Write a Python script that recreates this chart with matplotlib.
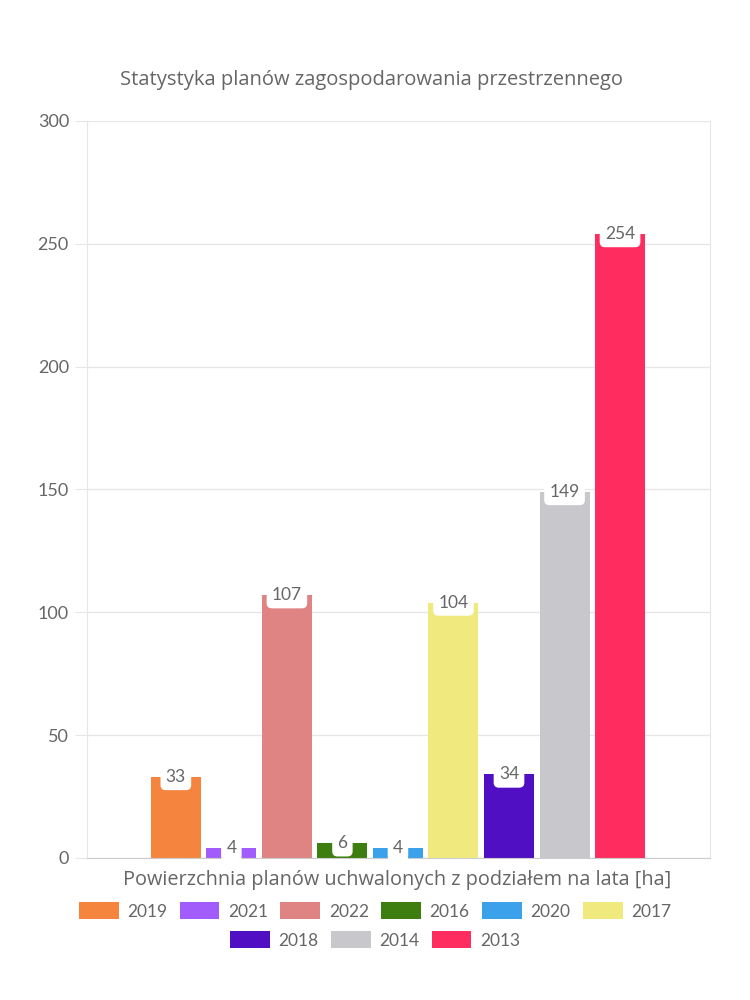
import matplotlib.pyplot as plt
from matplotlib.patches import Patch

years = ["2019", "2021", "2022", "2016", "2020", "2017", "2018", "2014", "2013"]
areas_ha = [33, 4, 107, 6, 4, 104, 34, 149, 254]
colors = ["#f5843f", "#a25cfc", "#e08383", "#3e7d0f", "#3aa1ea",
          "#f0ea7e", "#500fc2", "#c8c8cc", "#ff2d5f"]
y_ticks = [0, 50, 100, 150, 200, 250, 300]

title = "Statystyka planów zagospodarowania przestrzennego"
x_label = "Powierzchnia planów uchwalonych z podziałem na lata [ha]"

text_col = "#666666"
grid_col = "#e6e6e6"
plt.rcParams["font.family"] = ["Lato", "DejaVu Sans"]

fig = plt.figure(figsize=(7.5, 10), dpi=100)
ax = fig.add_axes([87 / 750, 142 / 1000, (710 - 87) / 750, (858 - 121) / 1000])

xs = list(range(len(years)))
for x, v, c in zip(xs, areas_ha, colors):
    ax.bar(x, v, width=0.9, color=c, zorder=2)
    ax.text(x, v, str(v), ha="center", va="center", fontsize=12.5, color=text_col,
            zorder=3,
            bbox=dict(boxstyle="round,pad=0.3,rounding_size=0.3", fc="white", ec="none"))

ax.set_xlim(-1.6, len(years) - 1 + 1.62)
ax.set_ylim(0, 300)
ax.set_yticks(y_ticks)
ax.set_xticks([])
ax.tick_params(axis="y", length=9, color=grid_col, labelsize=13, labelcolor=text_col, pad=4)
ax.grid(axis="y", color=grid_col, linewidth=0.9, zorder=0)
for side in ["left", "right", "top"]:
    ax.spines[side].set_color(grid_col)
ax.spines["top"].set_visible(False)
ax.spines["bottom"].set_color("#cccccc")

fig.text(372 / 750, 1 - 80 / 1000, title, ha="center", va="center",
         fontsize=14.5, color=text_col, family=["Open Sans", "DejaVu Sans"])
fig.text(397 / 750, 1 - 880 / 1000, x_label, ha="center", va="center",
         fontsize=14.3, color=text_col, family=["Open Sans", "DejaVu Sans"])

handles = [Patch(facecolor=c, edgecolor="none", label=y) for y, c in zip(years, colors)]
leg_kw = dict(frameon=False, fontsize=12.5, labelcolor=text_col, handlelength=2.3,
              handleheight=1.1, handletextpad=0.5, columnspacing=0.7, borderaxespad=0,
              borderpad=0)
fig.legend(handles=handles[:6], ncol=6, loc="center",
           bbox_to_anchor=(375 / 750, 1 - 911 / 1000), **leg_kw)
fig.legend(handles=handles[6:], ncol=3, loc="center",
           bbox_to_anchor=(375 / 750, 1 - 940 / 1000), **leg_kw)

fig.savefig("out.png", dpi=100, facecolor="white")
